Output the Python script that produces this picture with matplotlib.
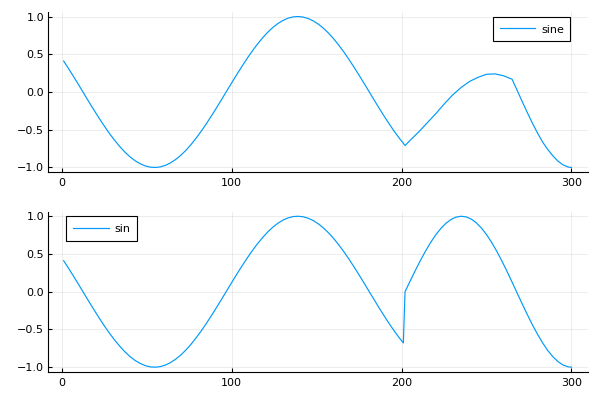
import matplotlib
matplotlib.use("Agg")
import matplotlib.pyplot as plt

# shared first part of both curves (index 1..201)
head_x = [1, 4, 7, 10, 13, 16, 19, 22, 25, 28, 31, 34, 37, 40, 43, 46, 49,
          52, 55, 58, 61, 64, 67, 70, 73, 76, 79, 82, 85, 88, 91, 94, 97,
          100, 103, 106, 109, 112, 115, 118, 121, 124, 127, 130, 133, 136,
          139, 142, 145, 148, 151, 154, 157, 160, 163, 166, 169, 172, 175,
          178, 181, 184, 187, 190, 193, 196, 199, 201]
head_y = [0.410, 0.306, 0.198, 0.088, -0.024, -0.136, -0.245, -0.352, -0.454,
          -0.551, -0.640, -0.722, -0.795, -0.858, -0.910, -0.950, -0.979,
          -0.996, -1.000, -0.992, -0.971, -0.938, -0.893, -0.838, -0.772,
          -0.696, -0.611, -0.519, -0.421, -0.317, -0.209, -0.099, 0.013,
          0.124, 0.234, 0.341, 0.444, 0.541, 0.632, 0.714, 0.788, 0.852,
          0.905, 0.947, 0.977, 0.995, 1.000, 0.993, 0.973, 0.942, 0.898,
          0.844, 0.779, 0.704, 0.620, 0.529, 0.431, 0.327, 0.220, 0.110,
          -0.002, -0.113, -0.224, -0.331, -0.434, -0.532, -0.623, -0.679]

# top ("sine") after index 201
sine_tail_x = [202, 205, 210, 215, 220, 225, 230, 235, 240, 245, 250, 255,
               260, 265, 268, 271, 274, 277, 280, 283, 286, 289, 292, 295,
               298, 300]
sine_tail_y = [-0.71, -0.64, -0.53, -0.41, -0.29, -0.16, -0.04, 0.06, 0.14,
               0.195, 0.235, 0.24, 0.215, 0.17, 0.022, -0.127, -0.273, -0.413,
               -0.544, -0.663, -0.760, -0.845, -0.915, -0.965, -0.994, -1.000]

# bottom ("sin") after index 201
sin_tail_x = [202, 205, 208, 211, 214, 217, 220, 223, 226, 229, 232, 235,
              238, 241, 244, 247, 250, 253, 256, 259, 262, 265, 268, 271,
              274, 277, 280, 283, 286, 289, 292, 295, 298, 300]
sin_tail_y = [0.000, 0.141, 0.279, 0.412, 0.536, 0.650, 0.751, 0.836, 0.905,
              0.956, 0.988, 1.000, 0.991, 0.962, 0.912, 0.843, 0.756, 0.653,
              0.536, 0.408, 0.271, 0.128, -0.017, -0.162, -0.303, -0.439,
              -0.564, -0.678, -0.778, -0.861, -0.925, -0.971, -0.995, -1.000]

x_ticks = [0, 100, 200, 300]
y_ticks = [-1.0, -0.5, 0.0, 0.5, 1.0]
y_labels = ["\u22121.0", "\u22120.5", "0.0", "0.5", "1.0"]

LINE = "#009AFA"

fig = plt.figure(figsize=(6, 4), dpi=100)
ax_top = fig.add_axes([48.3 / 600, 1 - 172 / 400, 540 / 600, 160 / 400])
ax_bot = fig.add_axes([48.3 / 600, 1 - 371.7 / 400, 540 / 600, 160 / 400])

panels = [
    (ax_top, head_x + sine_tail_x, head_y + sine_tail_y, "sine", "upper right", (0.967, 0.971)),
    (ax_bot, head_x + sin_tail_x, head_y + sin_tail_y, "sin", "upper left", (0.0335, 0.971)),
]

for ax, xs, ys, label, loc, anchor in panels:
    ax.plot(xs, ys, color=LINE, lw=0.85, label=label)
    ax.set_xlim(-8.05, 309.9)
    ax.set_ylim(-1.06, 1.06)
    ax.set_xticks(x_ticks)
    ax.set_yticks(y_ticks)
    ax.set_yticklabels(y_labels)
    ax.grid(True, color="black", alpha=0.1, lw=0.5)
    ax.set_axisbelow(True)
    for s in ["top", "right"]:
        ax.spines[s].set_visible(False)
    for s in ["left", "bottom"]:
        ax.spines[s].set_linewidth(0.8)
    ax.tick_params(direction="in", length=3, width=0.8, labelsize=8)
    ax.tick_params(axis="x", pad=4.5)
    ax.tick_params(axis="y", pad=3)
    leg = ax.legend(loc=loc, bbox_to_anchor=anchor, borderaxespad=0,
                    fontsize=8, handlelength=3.2, handleheight=1.2,
                    handletextpad=0.5, borderpad=0.6,
                    fancybox=False, framealpha=1)
    leg.get_frame().set_edgecolor("black")
    leg.get_frame().set_linewidth(0.8)

fig.savefig("out.png", dpi=100)
